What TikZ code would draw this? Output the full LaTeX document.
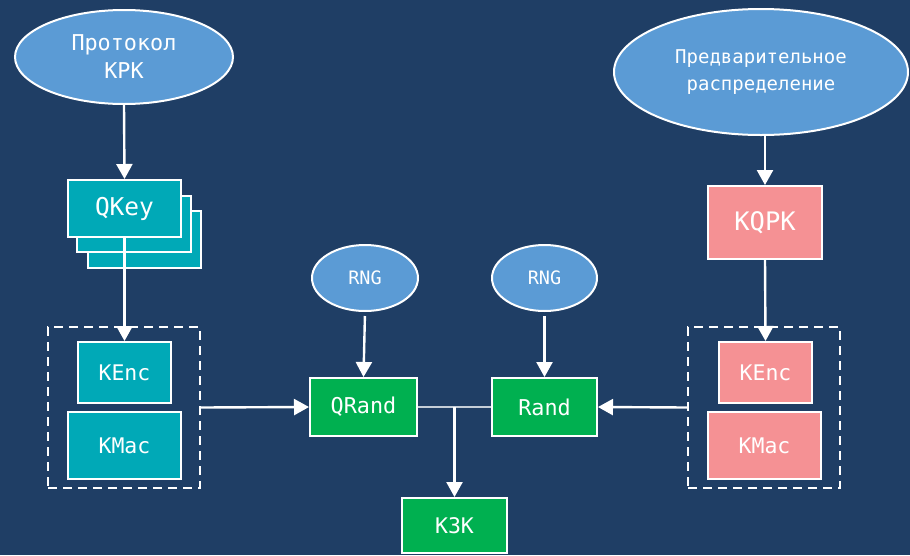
\documentclass[tikz,border=0pt]{standalone}
\usepackage{fontspec}
\setmonofont{DejaVu Sans Mono}
\usetikzlibrary{arrows.meta,shapes.geometric}
\definecolor{bg}{HTML}{1F3E65}
\definecolor{ellblue}{HTML}{5B9BD5}
\definecolor{tealbox}{HTML}{00A9B7}
\definecolor{pinkbox}{HTML}{F59194}
\definecolor{greenbox}{HTML}{00B050}
\definecolor{joinline}{HTML}{C5CED8}
\tikzset{
  ell/.style={ellipse, draw=white, line width=2pt, fill=ellblue, inner sep=0pt, text=white, align=center, font=\ttfamily},
  boxbase/.style={rectangle, draw=white, line width=2pt, inner sep=0pt, text=white, align=center, font=\ttfamily},
  tealnode/.style={boxbase, fill=tealbox},
  pinknode/.style={boxbase, fill=pinkbox},
  greennode/.style={boxbase, fill=greenbox},
  grpbox/.style={rectangle, draw=white, line width=2.4pt, dash pattern=on 9pt off 6pt, inner sep=0pt},
  arr/.style={draw=white, line width=2.4pt, -{Triangle[length=15pt,width=16pt]}},
}
\begin{document}
\begin{tikzpicture}[x=1pt,y=-1pt]
\useasboundingbox[fill=bg] (0,0) rectangle (910,555);

% top ellipses
\node[ell, minimum width=218pt, minimum height=94pt, font=\ttfamily\fontsize{21.8}{28}\selectfont] (proto) at (124,57) {Протокол\\КРК};
\node[ell, minimum width=294pt, minimum height=126pt, font=\ttfamily\fontsize{19}{27}\selectfont] (pre) at (761,72) {Предварительное\\распределение};

% QKey stack
\node[tealnode, minimum width=113pt, minimum height=57pt] (qkey3) at (144.5,239.5) {};
\node[tealnode, minimum width=114pt, minimum height=56pt] (qkey2) at (134,224) {};
\node[tealnode, minimum width=113pt, minimum height=57pt, font=\ttfamily\fontsize{24.5}{28}\selectfont] (qkey1) at (124.5,208.5) {QKey};

% left group
\node[grpbox, minimum width=152pt, minimum height=161pt] (lgrp) at (124,407.5) {};
\node[tealnode, minimum width=93pt, minimum height=61pt, font=\ttfamily\fontsize{21.5}{26}\selectfont] (lkenc) at (124.5,372.5) {KEnc};
\node[tealnode, minimum width=113pt, minimum height=67pt, font=\ttfamily\fontsize{21.5}{26}\selectfont] (lkmac) at (124.5,445.5) {KMac};

% KQPK and right group
\node[pinknode, minimum width=114pt, minimum height=73pt, font=\ttfamily\fontsize{25.5}{30}\selectfont] (kqpk) at (765,222.5) {KQPK};
\node[grpbox, minimum width=152pt, minimum height=161pt] (rgrp) at (764,407.5) {};
\node[pinknode, minimum width=93pt, minimum height=61pt, font=\ttfamily\fontsize{21.5}{26}\selectfont] (rkenc) at (765.5,372.5) {KEnc};
\node[pinknode, minimum width=113pt, minimum height=67pt, font=\ttfamily\fontsize{21.5}{26}\selectfont] (rkmac) at (764.5,445.5) {KMac};

% RNGs
\node[ell, minimum width=106pt, minimum height=66pt, font=\ttfamily\fontsize{18.5}{20}\selectfont] (rng1) at (365,278) {RNG};
\node[ell, minimum width=105pt, minimum height=66pt, font=\ttfamily\fontsize{18.5}{20}\selectfont] (rng2) at (544.5,278) {RNG};

% green boxes
\node[greennode, minimum width=107pt, minimum height=58pt, font=\ttfamily\fontsize{21.8}{26}\selectfont] (qrand) at (363.5,407) {QRand};
\node[greennode, minimum width=105pt, minimum height=58pt, font=\ttfamily\fontsize{21.8}{26}\selectfont] (rand) at (544.5,407) {Rand};
\node[greennode, minimum width=105pt, minimum height=55pt, font=\ttfamily\fontsize{21.5}{26}\selectfont] (k3k) at (454.5,525.5) {K3K};

% connectors
\draw[arr] (proto.south) -- (qkey1.north);
\draw[arr] (qkey1.south) -- (lkenc.north);
\draw[arr] (kqpk.north |- pre.south) -- (kqpk.north);
\draw[arr] (kqpk.south) -- (rkenc.north);
\draw[arr, shorten <=4pt] (rng1.south) -- (qrand.north);
\draw[arr, shorten <=4pt] (rng2.south) -- (rand.north);
\draw[arr] (lgrp.east) -- (qrand.west);
\draw[arr] (rgrp.west) -- (rand.east);
\draw[joinline, line width=1.5pt] (qrand.east) -- (rand.west);
\coordinate (jn) at (k3k.north |- qrand.east);
\draw[arr] (jn) -- (k3k.north);
\end{tikzpicture}
\end{document}
